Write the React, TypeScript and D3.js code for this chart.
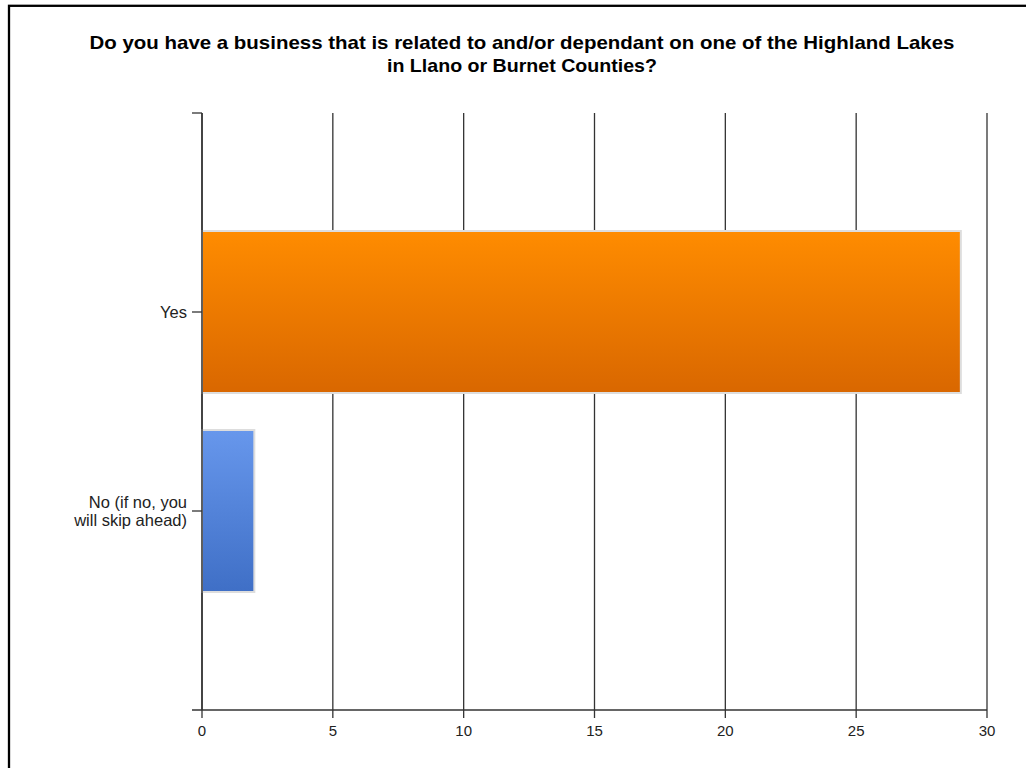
import React from "react";
import * as d3 from "d3";

const categories = ["Yes", "No (if no, you\nwill skip ahead)"];
const values = [29, 2];
const xTicks = [0, 5, 10, 15, 20, 25, 30];
const titleLines = [
  "Do you have a business that is related to and/or dependant on one of the Highland Lakes",
  "in Llano or Burnet Counties?",
];
const titleWidths = [865, 270];
const barColors = [
  ["#FF8C00", "#D96700"],
  ["#6797EC", "#3F6FC6"],
];

export default function App() {
  const W = 1026, H = 768;
  const left = 202, right = 987, top = 113, bottom = 710;
  const x = d3.scaleLinear().domain([0, 30]).range([left, right]);
  const y = d3.scaleLinear().domain([0, categories.length + 1]).range([top, bottom]);
  const barH = 162;
  const font = "'Liberation Sans', Arial, sans-serif";
  return (
    <svg width={W} height={H} style={{ position: "absolute", left: 0, top: 0, background: "#fff" }}>
      <defs>
        {barColors.map((c, i) => (
          <linearGradient key={i} id={`g${i}`} x1="0" y1="0" x2="0" y2="1">
            <stop offset="0" stopColor={c[0]} />
            <stop offset="1" stopColor={c[1]} />
          </linearGradient>
        ))}
      </defs>
      <rect x={9} y={5.8} width={W + 20} height={H + 20} fill="#fff" stroke="#000" strokeWidth={2.3} />
      {titleLines.map((t, i) => (
        <text key={i} x={522} y={48.5 + i * 23} textAnchor="middle" fontFamily={font} fontWeight="bold"
          fontSize={18.5} fill="#000" textLength={titleWidths[i]} lengthAdjust="spacingAndGlyphs">
          {t}
        </text>
      ))}
      {/* gridlines */}
      {xTicks.map((t) => (
        <line key={t} x1={x(t)} x2={x(t)} y1={top} y2={bottom + 8} stroke="#333" strokeWidth={1.3} />
      ))}
      {/* bars */}
      {values.map((v, i) => {
        const cy = y(i + 1);
        return (
          <rect key={i} x={x(0)} y={cy - barH / 2} width={x(v) - x(0)} height={barH}
            fill={`url(#g${i})`} stroke="#DDDDDD" strokeWidth={2} />
        );
      })}
      {/* y axis */}
      <line x1={left} x2={left} y1={top} y2={bottom} stroke="#333" strokeWidth={1.5} />
      <line x1={left - 10} x2={left} y1={top} y2={top} stroke="#333" strokeWidth={1.3} />
      <line x1={left - 10} x2={right} y1={bottom} y2={bottom} stroke="#333" strokeWidth={1.5} />
      {categories.map((c, i) => {
        const cy = y(i + 1);
        const lines = c.split("\n");
        return (
          <g key={i}>
            <line x1={left - 10} x2={left} y1={cy} y2={cy} stroke="#333" strokeWidth={1.3} />
            {lines.map((l, j) => (
              <text key={j} x={187} y={cy + 6 + (j - (lines.length - 1) / 2) * 18.5} textAnchor="end"
                fontFamily={font} fontSize={16.5} fill="#222">
                {l}
              </text>
            ))}
          </g>
        );
      })}
      {xTicks.map((t) => (
        <text key={t} x={x(t)} y={736} textAnchor="middle" fontFamily={font} fontSize={15} fill="#222">
          {t}
        </text>
      ))}
    </svg>
  );
}
